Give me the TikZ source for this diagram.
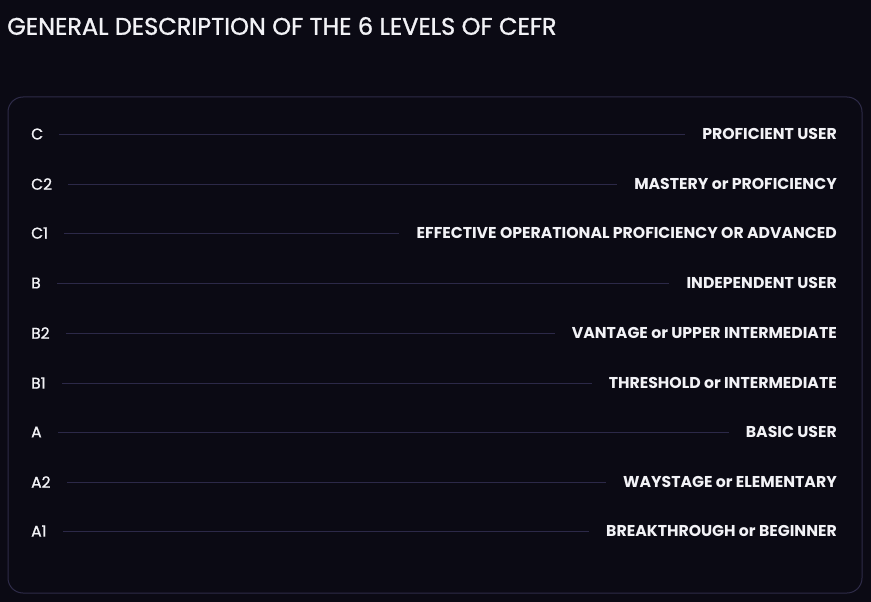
\documentclass[tikz,border=0pt]{standalone}
\usepackage{fontspec}
\setmainfont{Poppins}
\newfontfamily\popmedium{Poppins}[FakeBold=1.2]
\usetikzlibrary{positioning}

\definecolor{bgdark}{RGB}{11,10,20}
\definecolor{rulepurple}{RGB}{44,41,72}
\definecolor{framepurple}{RGB}{46,43,72}
\definecolor{textwhite}{RGB}{242,242,246}

\tikzset{
	level/.style={anchor=west, inner sep=0pt, text=textwhite, font=\popmedium\fontsize{15.5}{18}\selectfont},
	meaning/.style={anchor=east, inner sep=0pt, text=textwhite, font=\fontsize{15.7}{18}\selectfont\bfseries},
	guide/.style={draw=rulepurple, line width=1pt},
}

\begin{document}
\begin{tikzpicture}[x=1pt, y=-1pt]
	\fill[bgdark] (0,0) rectangle (871,602);
	\useasboundingbox (0,0) rectangle (871,602);

	\node (title) [anchor=west, inner sep=0pt, text=textwhite, font=\popmedium\fontsize{24}{28}\selectfont] at (7,26) {GENERAL DESCRIPTION OF THE 6 LEVELS OF CEFR};
	\draw[framepurple, line width=1pt, rounded corners=15pt] (8,97) rectangle (862,593);

	\node (C) [level] at (31,134) {C};
	\node (Cm) [meaning] at (837,134) {PROFICIENT USER};
	\node (Ctwo) [level] at (31,184) {C2};
	\node (Ctwom) [meaning] at (837,184) {MASTERY or PROFICIENCY};
	\node (Cone) [level] at (31,233) {C1};
	\node (Conem) [meaning] at (837,233) {EFFECTIVE OPERATIONAL PROFICIENCY OR ADVANCED};
	\node (B) [level] at (31,283) {B};
	\node (Bm) [meaning] at (837,283) {INDEPENDENT USER};
	\node (Btwo) [level] at (31,333) {B2};
	\node (Btwom) [meaning] at (837,333) {VANTAGE or UPPER INTERMEDIATE};
	\node (Bone) [level] at (31,383) {B1};
	\node (Bonem) [meaning] at (837,383) {THRESHOLD or INTERMEDIATE};
	\node (A) [level] at (31,432) {A};
	\node (Am) [meaning] at (837,432) {BASIC USER};
	\node (Atwo) [level] at (31,482) {A2};
	\node (Atwom) [meaning] at (837,482) {WAYSTAGE or ELEMENTARY};
	\node (Aone) [level] at (31,531) {A1};
	\node (Aonem) [meaning] at (837,531) {BREAKTHROUGH or BEGINNER};

	\draw[guide] ([xshift=16pt]C.east) -- ([xshift=-17pt]Cm.west);
	\draw[guide] ([xshift=16pt]Ctwo.east) -- ([xshift=-17pt]Ctwom.west);
	\draw[guide] ([xshift=16pt]Cone.east) -- ([xshift=-17pt]Conem.west);
	\draw[guide] ([xshift=16pt]B.east) -- ([xshift=-17pt]Bm.west);
	\draw[guide] ([xshift=16pt]Btwo.east) -- ([xshift=-17pt]Btwom.west);
	\draw[guide] ([xshift=16pt]Bone.east) -- ([xshift=-17pt]Bonem.west);
	\draw[guide] ([xshift=16pt]A.east) -- ([xshift=-17pt]Am.west);
	\draw[guide] ([xshift=16pt]Atwo.east) -- ([xshift=-17pt]Atwom.west);
	\draw[guide] ([xshift=16pt]Aone.east) -- ([xshift=-17pt]Aonem.west);
\end{tikzpicture}
\end{document}
